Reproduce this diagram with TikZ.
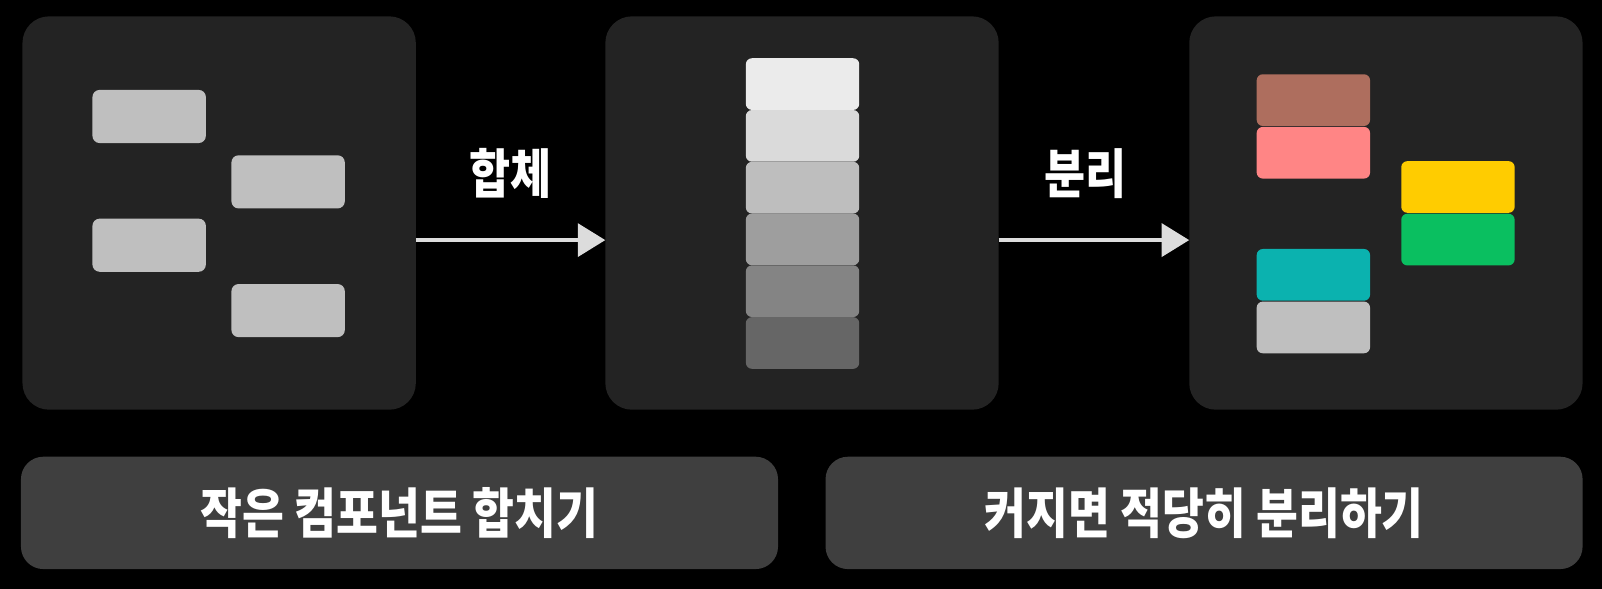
\documentclass[tikz,border=0pt]{standalone}
\usepackage{fontspec}
\newfontfamily\kr{Noto Sans CJK KR}[FakeStretch=0.84]
\usetikzlibrary{arrows.meta}
\definecolor{panelc}{HTML}{232323}
\definecolor{pillc}{HTML}{3F3F3F}
\definecolor{arrowc}{HTML}{DCDCDC}
\definecolor{blk}{HTML}{BFBFBF}
\definecolor{s1}{HTML}{EBEBEB}
\definecolor{s2}{HTML}{DADADA}
\definecolor{s3}{HTML}{BEBEBE}
\definecolor{s4}{HTML}{9E9E9E}
\definecolor{s5}{HTML}{848484}
\definecolor{s6}{HTML}{666666}
\definecolor{brownc}{HTML}{AE6E5E}
\definecolor{pinkc}{HTML}{FF8585}
\definecolor{yellowc}{HTML}{FFCC00}
\definecolor{greenc}{HTML}{0ABF60}
\definecolor{tealc}{HTML}{0BB2AF}
\begin{document}
\begin{tikzpicture}[x=1pt,y=1pt,
  panel/.style={fill=panelc,rounded corners=26pt,minimum width=385pt,minimum height=385pt,inner sep=0pt,outer sep=0pt},
  pill/.style={fill=pillc,rounded corners=22pt,minimum width=741pt,minimum height=110pt,inner sep=0pt,outer sep=0pt,text=white,font=\kr\bfseries\fontsize{53}{56}\selectfont},
  block/.style={fill=#1,rounded corners=7pt,minimum width=111pt,minimum height=52pt,inner sep=0pt,outer sep=0pt},
  seg/.style={fill=#1,rounded corners=6pt,minimum width=111pt,minimum height=50.6pt,inner sep=0pt,outer sep=0pt},
  flow/.style={draw=arrowc,line width=4.5pt,-{Triangle[length=27pt,width=32pt]}},
  lbl/.style={text=white,font=\kr\bfseries\fontsize{52}{56}\selectfont,inner sep=0pt}
]
\fill[black] (0,0) rectangle (1568,-576);
\useasboundingbox (0,0) rectangle (1568,-576);
% panels
\node[panel] (p1) at (214.5,-208.5) {};
\node[panel] (p2) at (785,-208.5) {};
\node[panel] (p3) at (1356.5,-208.5) {};
% panel 1 blocks
\node[block=blk] (a1) at (146,-114) {};
\node[block=blk] (a2) at (282,-178) {};
\node[block=blk] (a3) at (146,-240) {};
\node[block=blk] (a4) at (282,-304) {};
% panel 2 stack
\node[seg=s1] (b1) at (785.5,-82.3) {};
\node[seg=s2] (b2) at (785.5,-133) {};
\node[seg=s3] (b3) at (785.5,-183.7) {};
\node[seg=s4] (b4) at (785.5,-234.3) {};
\node[seg=s5] (b5) at (785.5,-285) {};
\node[seg=s6] (b6) at (785.5,-335.7) {};
% panel 3 blocks
\node[seg=brownc] (c1) at (1285.5,-98) {};
\node[seg=pinkc] (c2) at (1285.5,-149.5) {};
\node[seg=yellowc] (c3) at (1427,-183) {};
\node[seg=greenc] (c4) at (1427,-234.5) {};
\node[seg=tealc] (c5) at (1285.5,-269) {};
\node[seg=blk] (c6) at (1285.5,-320.5) {};
% arrows
\draw[flow] (p1.east |- 0,-235) -- (p2.west |- 0,-235);
\draw[flow] (p2.east |- 0,-235) -- (p3.west |- 0,-235);
\node[lbl] (l1) at (499.5,-170) {합체};
\node[lbl] (l2) at (1062.5,-170) {분리};
% pills
\node[pill] (q1) at (391,-502) {작은 컴포넌트 합치기};
\node[pill] (q2) at (1178.5,-502) {커지면 적당히 분리하기};
\end{tikzpicture}
\end{document}
